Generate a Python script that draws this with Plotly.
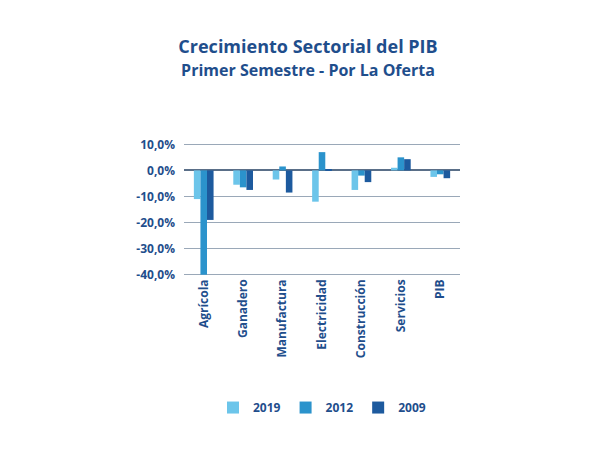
import plotly.graph_objects as go

sectors = ["Agrícola", "Ganadero", "Manufactura", "Electricidad", "Construcción", "Servicios", "PIB"]
v2019 = [-11.0, -5.5, -3.5, -12.0, -7.5, 1.0, -2.5]
v2012 = [-40.0, -6.5, 1.5, 7.0, -2.0, 5.0, -1.5]
v2009 = [-19.0, -7.5, -8.5, 0.5, -4.5, 4.3, -3.0]
ticks = [10, 0, -10, -20, -30, -40]
tick_text = ["<b>10,0%</b>", "<b>0,0%</b>", "<b>-10,0%</b>", "<b>-20,0%</b>", "<b>-30,0%</b>", "<b>-40,0%</b>"]

navy = "#1f4e8c"
font = "Open Sans"

fig = go.Figure()
for name, vals, col in [("2019", v2019, "#6cc5ea"), ("2012", v2012, "#2b93cc"), ("2009", v2009, "#1d5a9e")]:
    fig.add_trace(go.Bar(x=sectors, y=vals, name="<b>" + name + "</b>", marker_color=col, marker_line_width=0))

fig.update_layout(
    width=600, height=450,
    paper_bgcolor="white", plot_bgcolor="white",
    margin=dict(l=176, r=148, t=135, b=182),
    bargap=0.5, bargroupgap=0,
    title=dict(
        text="<b>Crecimiento Sectorial del PIB</b><br><span style='font-size:16px'><b>Primer Semestre - Por La Oferta</b></span>",
        x=0.5, xanchor="center", y=0.9, yanchor="top",
        font=dict(family=font, size=18, color=navy),
    ),
    xaxis=dict(tickangle=-90, showgrid=False, showline=False, ticks="",
               tickvals=sectors, ticktext=["<b>" + s + "</b>" for s in sectors],
               tickfont=dict(family=font, size=12, color=navy)),
    yaxis=dict(range=[-40.5, 10.5], tickvals=ticks, ticktext=tick_text,
               gridcolor="#9aa8b8", gridwidth=1, zeroline=True, zerolinecolor="#5a6f88",
               zerolinewidth=1.5, tickfont=dict(family=font, size=12, color=navy),
               ticklabelstandoff=8),
    legend=dict(orientation="h", x=0.5, xanchor="center", y=-0.88, yanchor="top",
                bgcolor="rgba(0,0,0,0)",
                font=dict(family=font, size=12, color=navy), itemwidth=30),
    font=dict(family=font, color=navy),
)

fig.write_html("out.html")
